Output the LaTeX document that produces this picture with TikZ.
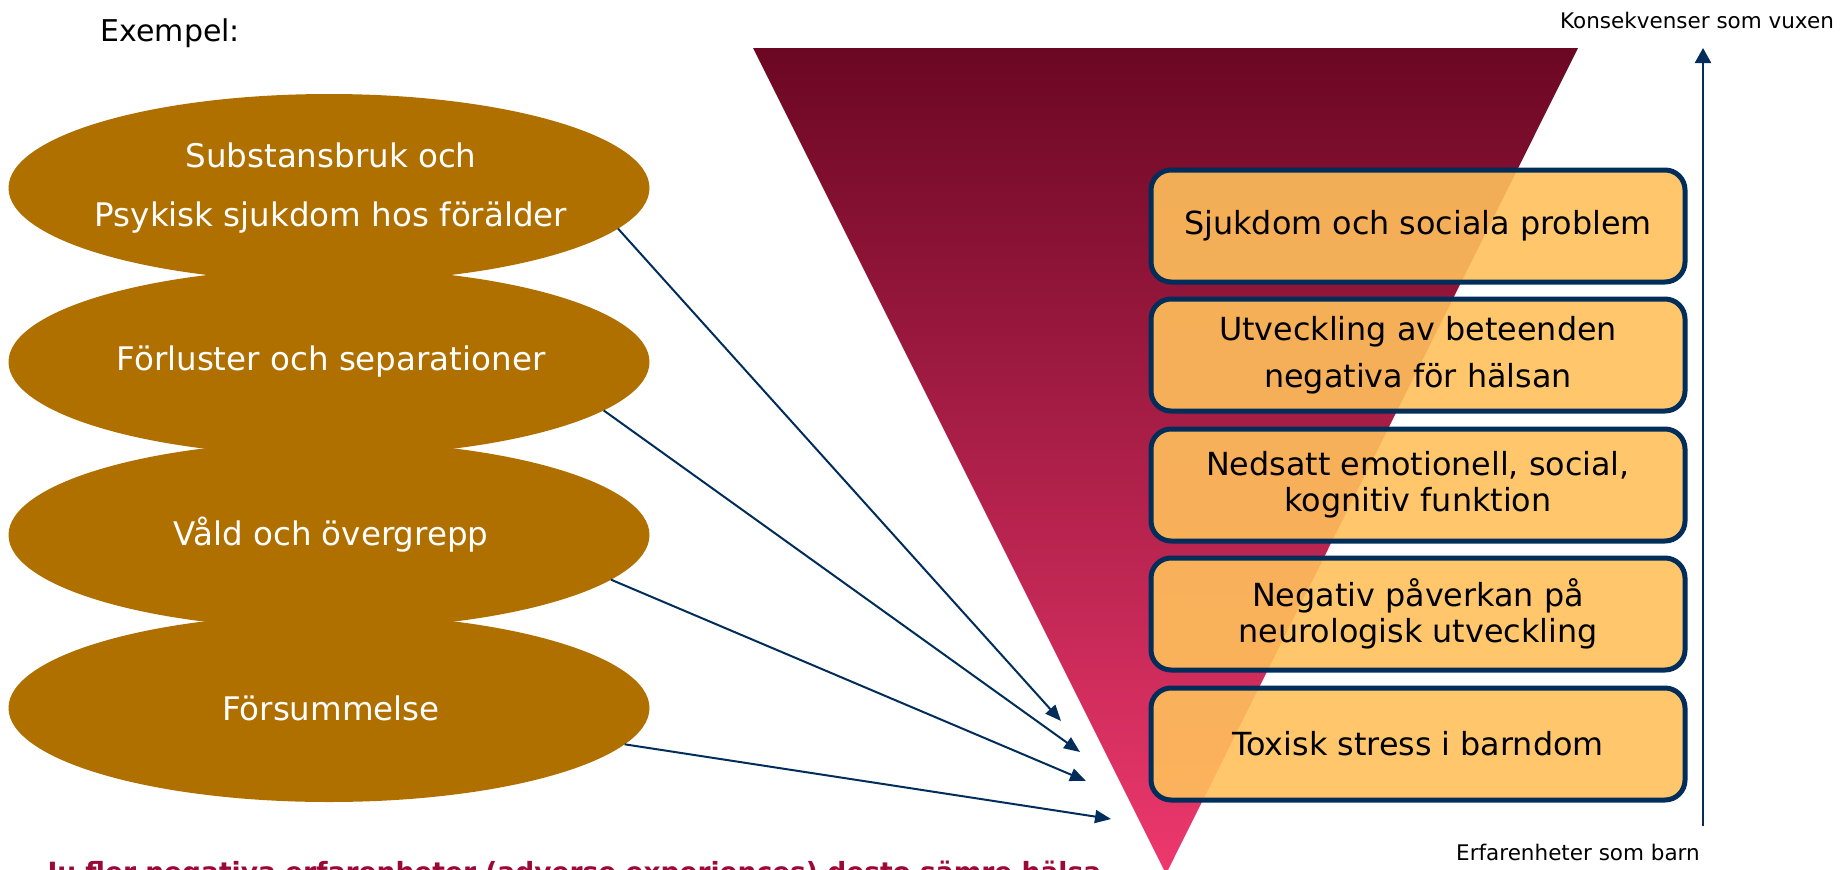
\documentclass[tikz,border=0pt]{standalone}
\usepackage{fontspec}
\setmainfont{DejaVu Sans}
\usetikzlibrary{arrows.meta}
\usetikzlibrary{shapes.geometric}
\definecolor{mbrown}{RGB}{176,112,0}
\definecolor{mnavy}{RGB}{0,45,90}
\definecolor{mpeach}{RGB}{255,192,91}
\definecolor{mwine}{RGB}{107,7,35}
\definecolor{mred}{RGB}{166,12,58}
\definecolor{mpink}{RGB}{238,56,110}
\definecolor{mtext}{RGB}{155,10,55}
\tikzset{blob/.style = {ellipse, fill = mbrown, inner sep = 0, outer sep = 0, minimum width = 641pt, minimum height = 188pt}}
\tikzset{blobtext/.style = {text = white, align = center, font = \fontsize{32.5}{59}\selectfont}}
\tikzset{stage/.style = {draw = mnavy, line width = 5pt, rounded corners = 20pt, fill = mpeach, fill opacity = 0.9, text opacity = 1, minimum width = 534pt, minimum height = 112pt, align = center, font = \fontsize{31.8}{36}\selectfont}}
\tikzset{link/.style = {draw = mnavy, line width = 2pt, -{Triangle[length = 16pt, width = 13pt]}}}

\begin{document}
\begin{tikzpicture}[x = 1pt, y = -1pt]
      \useasboundingbox (0, 0) rectangle (1842, 870);
      \shade [top color = mwine, middle color = mred, bottom color = mpink] (753, 48) -- (1578, 48) -- (1166, 874) -- cycle;

      \node [anchor = west, font = \fontsize{30}{36}\selectfont] (ex) at (97, 33) {Exempel:};

      \foreach \y/\name/\txt in {188/e1/{Substansbruk och\\Psykisk sjukdom hos förälder}, 362/e2/{Förluster och separationer}, 535/e3/{Våld och övergrepp}, 708/e4/{Försummelse}} {
        \node [blob] (\name) at (329, \y) {};
      }
      \foreach \y/\name/\txt in {188/e1/{Substansbruk och\\Psykisk sjukdom hos förälder}, 362/e2/{Förluster och separationer}, 535/e3/{Våld och övergrepp}, 708/e4/{Försummelse}} {
        \node [blobtext] (\name t) at (331, \y) {\txt};
      }

      \foreach \y/\name/\txt in {226/s1/{Sjukdom och sociala problem}, 355/s2/{Utveckling av beteenden\\[11pt]negativa för hälsan}, 485/s3/{Nedsatt emotionell, social,\\kognitiv funktion}, 614/s4/{Negativ påverkan på\\neurologisk utveckling}, 744/s5/{Toxisk stress i barndom}} {
        \node [stage] (\name) at (1418, \y) {\txt};
      }

      \coordinate (h1) at (1061, 721);
      \coordinate (h2) at (1080, 752);
      \coordinate (h3) at (1086, 781);
      \coordinate (h4) at (1111, 819);
      \draw [link] (e1.-8) -- (h1);
      \draw [link] (e2.-10) -- (h2);
      \draw [link] (e3.-9.5) -- (h3);
      \draw [link] (e4.-7) -- (h4);

      \node [font = \fontsize{21.5}{26}\selectfont] (adult) at (1697, 20) {Konsekvenser som vuxen};
      \node [font = \fontsize{21.5}{26}\selectfont] (child) at (1578, 852) {Erfarenheter som barn};
      \coordinate (up0) at (1703, 826);
      \coordinate (up1) at (1703, 48);
      \draw [draw = mnavy, line width = 2.5pt, -{Triangle[length = 15pt, width = 16pt]}] (up0) -- (up1);

      \node [anchor = base west, text = mtext, font = \bfseries\fontsize{26.5}{30}\selectfont] (note) at (44, 881) {Ju fler negativa erfarenheter (adverse experiences) desto sämre hälsa};
    \end{tikzpicture}
\end{document}
